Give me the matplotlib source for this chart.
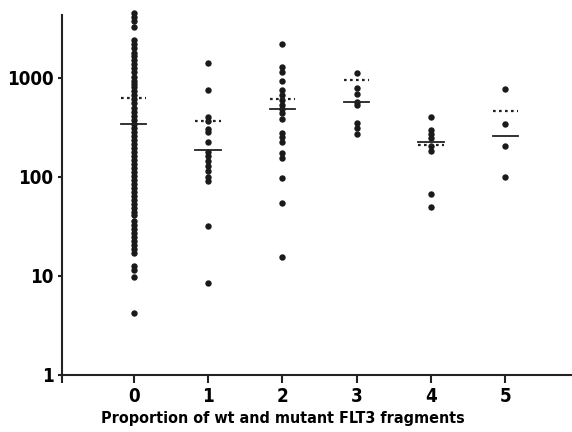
import numpy as np
import matplotlib.pyplot as plt
from matplotlib.ticker import NullLocator

groups = [0, 1, 2, 3, 4, 5]

g0 = [4500, 4100, 3750, 3300, 2400, 2200, 2000, 1800, 1650, 1500, 1370, 1250, 1140,
      1030, 940, 860, 800, 730, 665, 605, 551, 502, 457, 416, 379, 345, 314, 286,
      261, 238, 216, 197, 179, 163, 149, 136, 123, 112, 102, 93, 85, 77, 70, 64,
      58.4, 53.2, 48.4, 44.1, 41.1, 35.7, 32.6, 29.7, 27.0, 24.6, 22.4, 20.4, 18.6,
      16.9, 12.5, 11.4, 9.7, 4.2]
g1 = [1400, 750, 406, 370, 307, 286, 227, 179, 163, 145, 129, 115, 100, 91, 31.8, 8.4]
g2 = [2200, 1279, 1137, 921, 747, 665, 591, 538, 490, 446, 388, 280, 255, 227, 175,
      156, 98, 54.5, 15.4]
g3 = [1111, 782, 680, 577, 526, 353, 314, 273]
g4 = [406, 300, 273, 249, 206, 184, 67, 49.6]
g5 = [764, 345, 207, 100]
values = [g0, g1, g2, g3, g4, g5]

medians = [345, 185, 490, 564, 227, 261]
means = [620, 370, 605, 943, 211, 458]

xlabel = 'Proportion of wt and mutant FLT3 fragments'

plt.rcParams['font.family'] = ['DejaVu Sans']
plt.rcParams['font.stretch'] = 'condensed'
plt.rcParams['font.weight'] = 'bold'

fig = plt.figure(figsize=(5.72, 4.32), dpi=100)
ax = fig.add_axes([0.108, 0.132, 0.892, 0.833])

for x, v in zip(groups, values):
    ax.plot([x] * len(v), v, 'o', color='#1a1a1a', ms=4.6, mec='none', clip_on=False, zorder=3)

hw = 0.17
for x, m in zip(groups, medians):
    ax.plot([x - hw, x + hw], [m, m], color='#222222', lw=1.3, zorder=4)
for x, m in zip(groups, means):
    ax.plot([x - hw, x + hw], [m, m], color='#222222', lw=1.6, ls=(0, (1.2, 1.5)), zorder=4)

ax.set_yscale('log')
ax.set_ylim(1, 4300)
ax.set_xlim(-0.97, 5.9)
ax.set_yticks([1, 10, 100, 1000])
ax.set_yticklabels(['1', '10', '100', '1000'])
ax.yaxis.set_minor_locator(NullLocator())
ax.set_xticks([-0.97] + groups)
ax.set_xticklabels([''] + [str(g) for g in groups])

for s in ['top', 'right']:
    ax.spines[s].set_visible(False)
for s in ['left', 'bottom']:
    ax.spines[s].set_linewidth(1.5)
    ax.spines[s].set_color('#222222')
ax.tick_params(axis='both', width=1.5, color='#222222', labelsize=13.5, direction='out')
ax.tick_params(axis='x', length=6, pad=3)
ax.tick_params(axis='y', length=3, pad=3)

ax.text(2.0, -0.12, xlabel, transform=ax.get_xaxis_transform(), ha='center', va='center',
        fontsize=11.5, fontweight='bold')

fig.savefig('out.png', dpi=100)
